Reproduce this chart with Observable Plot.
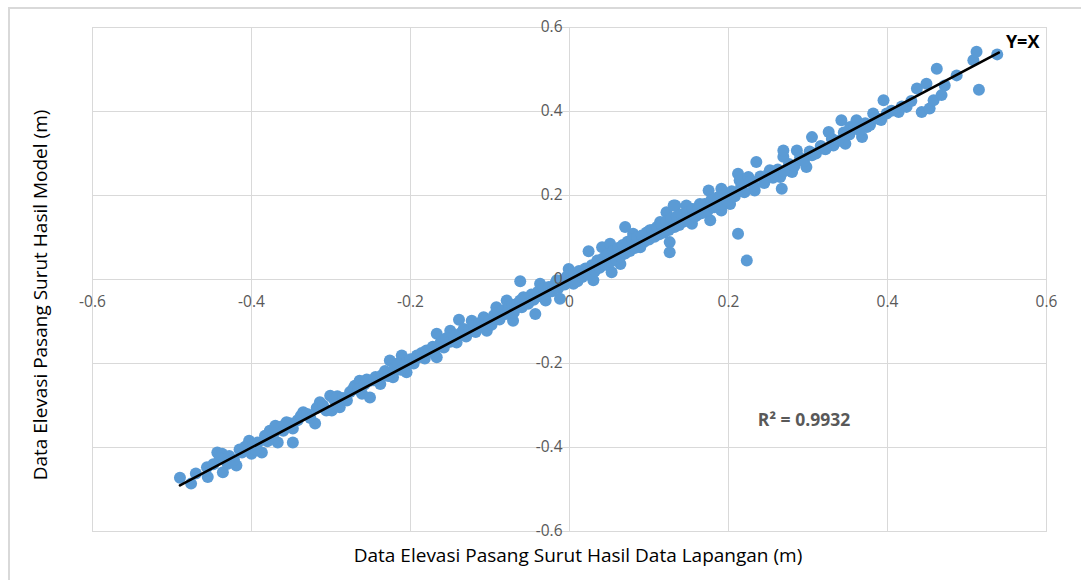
<!DOCTYPE html>
<html>
<head>
<meta charset="utf-8">
<script src="https://cdn.jsdelivr.net/npm/d3@7"></script>
<script src="https://cdn.jsdelivr.net/npm/@observablehq/plot@0.6"></script>
<style>
  html, body { margin: 0; padding: 0; background: #fff; }
  #wrap { position: relative; width: 1081px; height: 580px; overflow: hidden; font-family: "Open Sans", sans-serif; }
  #border { position: absolute; left: 8px; top: 7px; width: 1090px; height: 600px; border-top: 2px solid #d9d9d9; border-left: 2px solid #d9d9d9; box-sizing: border-box; }
  #chart { position: absolute; left: 0; top: 0; }
  .xtitle { position: absolute; left: 578px; top: 555px; transform: translate(-50%, -50%); white-space: nowrap; font-size: 19px; color: #000; }
  .ytitle { position: absolute; left: 40px; top: 295px; transform: translate(-50%, -50%) rotate(-90deg); white-space: nowrap; font-size: 19px; color: #000; }
</style>
</head>
<body>
<div id="wrap">
  <div id="border"></div>
  <div id="chart"></div>
  <div class="xtitle" id="xt"></div>
  <div class="ytitle" id="yt"></div>
</div>
<script>
// Field data (x) vs model data (y), metres
const fieldX = [
  -0.490,-0.476,-0.456,-0.455,-0.443,-0.437,-0.436,-0.430,-0.419,-0.412,-0.403,-0.400,-0.392,-0.387,-0.377,-0.370,-0.367,-0.356,-0.348,-0.348,
  -0.335,-0.320,-0.314,-0.301,-0.299,-0.289,-0.280,-0.270,-0.264,-0.261,-0.251,-0.251,-0.238,-0.226,-0.222,-0.211,-0.205,-0.192,-0.180,-0.167,
  -0.167,-0.188,-0.150,-0.139,-0.123,-0.108,-0.104,-0.092,-0.079,-0.071,-0.062,-0.058,-0.043,-0.037,-0.029,-0.016,-0.012,-0.001,0.005,0.017,
  0.024,0.030,0.041,0.051,0.053,0.064,0.070,0.080,0.089,0.101,0.114,0.122,0.126,0.126,0.133,0.147,0.160,
  0.131,0.154,0.164,0.175,0.177,0.191,0.191,0.202,0.212,0.223,0.212,0.214,0.225,0.233,0.235,0.252,0.265,0.267,0.269,0.269,
  0.280,0.286,0.298,0.305,0.305,0.319,0.326,0.332,0.342,0.347,0.353,0.361,0.368,0.374,0.382,0.388,0.395,0.399,0.414,0.424,
  0.437,0.443,0.449,0.453,0.458,0.462,0.468,0.472,0.487,0.508,0.512,0.515,0.538,
  -0.470,-0.448,-0.440,-0.428,-0.422,-0.415,-0.408,-0.398,-0.395,-0.383,-0.380,-0.372,-0.362,-0.360,-0.352,-0.342,-0.338,-0.330,-0.326,-0.318,
  -0.310,-0.306,-0.296,-0.292,-0.285,-0.276,-0.272,-0.266,-0.258,-0.255,-0.246,-0.244,-0.236,-0.232,-0.228,-0.220,-0.216,-0.212,-0.205,-0.200,
  -0.196,-0.190,-0.186,-0.182,-0.176,-0.172,-0.170,
  -0.162,-0.158,-0.155,-0.150,-0.145,-0.142,-0.137,-0.133,-0.130,-0.126,-0.120,-0.118,-0.114,-0.110,-0.106,-0.101,-0.098,-0.095,-0.090,-0.088,
  -0.084,-0.080,-0.076,-0.072,-0.070,-0.066,-0.062,-0.060,-0.055,-0.052,-0.048,-0.045,-0.040,-0.036,-0.033,-0.030,-0.026,-0.022,-0.018,-0.014,
  -0.010,-0.006,-0.003,0.002,0.006,0.010,0.012,0.016,0.020,0.024,0.028,0.032,0.035,0.038,0.042,0.045,0.048,0.052,0.055,0.058,
  0.061,0.064,0.067,0.070,0.073,0.076,0.079,0.082,0.085,0.088,0.091,0.094,0.097,0.100,0.104,0.107,0.110,0.113,0.116,0.119,
  0.122,0.125,0.128,0.132,0.135,0.138,0.141,0.144,0.148,0.151,0.155,0.158,0.162,0.166,0.170,0.174,0.178,0.182,0.186,0.190,
  0.194,0.198,0.204,0.208,0.216,0.220,0.228,0.232,0.240,0.245,0.250,0.256,0.262,0.270,0.276,0.283,0.290,0.295,0.302,0.310,
  0.316,0.322,0.330,0.338,0.345,0.352,0.358,0.365,0.372,0.378,0.385,0.392,0.405,0.418,0.430
];
const modelY = [
  -0.472,-0.486,-0.447,-0.470,-0.412,-0.415,-0.459,-0.439,-0.443,-0.412,-0.384,-0.415,-0.388,-0.412,-0.360,-0.348,-0.388,-0.340,-0.388,-0.355,
  -0.316,-0.343,-0.292,-0.277,-0.312,-0.304,-0.288,-0.253,-0.241,-0.272,-0.241,-0.281,-0.249,-0.193,-0.233,-0.181,-0.221,-0.181,-0.169,-0.129,
  -0.185,-0.181,-0.122,-0.096,-0.098,-0.090,-0.122,-0.066,-0.050,-0.098,-0.004,-0.042,-0.082,-0.010,-0.034,-0.002,-0.046,0.025,-0.010,0.014,
  0.067,-0.002,0.077,0.085,0.017,0.037,0.125,0.109,0.077,0.117,0.137,0.160,0.089,0.065,0.176,0.176,0.153,
  0.176,0.133,0.180,0.212,0.141,0.216,0.164,0.180,0.109,0.045,0.252,0.236,0.244,0.212,0.280,0.260,0.244,0.216,0.292,0.307,
  0.256,0.307,0.268,0.296,0.339,0.312,0.351,0.319,0.379,0.323,0.363,0.379,0.339,0.363,0.395,0.383,0.427,0.395,0.399,0.411,
  0.455,0.399,0.466,0.407,0.427,0.502,0.439,0.462,0.486,0.522,0.542,0.452,0.536,
  -0.462,-0.440,-0.425,-0.420,-0.430,-0.405,-0.398,-0.392,-0.405,-0.372,-0.385,-0.366,-0.350,-0.360,-0.342,-0.335,-0.325,-0.320,-0.330,-0.306,
  -0.300,-0.312,-0.286,-0.278,-0.282,-0.268,-0.260,-0.262,-0.250,-0.238,-0.240,-0.232,-0.228,-0.218,-0.230,-0.212,-0.200,-0.215,-0.198,-0.190,
  -0.200,-0.185,-0.175,-0.188,-0.170,-0.160,-0.175,
  -0.150,-0.162,-0.140,-0.148,-0.135,-0.150,-0.128,-0.118,-0.136,-0.120,-0.110,-0.125,-0.104,-0.112,-0.095,-0.098,-0.108,-0.085,-0.080,-0.095,
  -0.074,-0.082,-0.066,-0.060,-0.078,-0.058,-0.050,-0.066,-0.045,-0.058,-0.036,-0.048,-0.030,-0.040,-0.022,-0.050,-0.018,-0.028,-0.010,-0.020,
  -0.002,-0.012,0.008,0.004,0.014,-0.004,0.020,0.006,0.026,0.012,0.034,0.020,0.045,0.028,0.050,0.035,0.060,0.042,0.068,0.050,
  0.075,0.055,0.082,0.062,0.090,0.068,0.095,0.075,0.100,0.082,0.105,0.090,0.112,0.095,0.118,0.102,0.125,0.108,0.130,0.112,
  0.138,0.118,0.145,0.125,0.150,0.130,0.155,0.138,0.160,0.145,0.168,0.150,0.172,0.158,0.180,0.165,0.188,0.172,0.195,0.180,
  0.200,0.188,0.210,0.198,0.222,0.208,0.235,0.222,0.245,0.230,0.250,0.242,0.262,0.258,0.275,0.270,0.290,0.282,0.305,0.300,
  0.318,0.310,0.335,0.330,0.350,0.345,0.360,0.355,0.372,0.368,0.385,0.380,0.402,0.412,0.425
];
// Y = X reference line ends
const lineX = [-0.49, 0.54];
// Tick values and labels
const xTicks = [-0.6, -0.4, -0.2, 0, 0.2, 0.4, 0.6];
const xTickLabels = ["-0.6", "-0.4", "-0.2", "0", "0.2", "0.4", "0.6"];
const yTicks = [-0.6, -0.4, -0.2, 0, 0.2, 0.4, 0.6];
const yTickLabels = ["-0.6", "-0.4", "-0.2", "0", "0.2", "0.4", "0.6"];
const xTitle = "Data Elevasi Pasang Surut Hasil Data Lapangan (m)";
const yTitle = "Data Elevasi Pasang Surut Hasil Model (m)";
const lineLabel = "Y=X";
const r2Label = "R² = 0.9932";

const points = fieldX.map((x, i) => ({x, y: modelY[i]}));
const xT = xTicks.map((v, i) => ({v, t: xTickLabels[i]}));
const yT = yTicks.map((v, i) => ({v, t: yTickLabels[i]}));

const chart = Plot.plot({
  width: 1081,
  height: 580,
  marginLeft: 92,
  marginRight: 35,
  marginTop: 27,
  marginBottom: 49,
  x: {domain: [-0.6, 0.6], axis: null},
  y: {domain: [-0.6, 0.6], axis: null},
  style: {fontFamily: "'Open Sans', sans-serif", background: "transparent", overflow: "visible"},
  marks: [
    Plot.gridX(xTicks, {stroke: "#d9d9d9", strokeOpacity: 1, strokeWidth: 1}),
    Plot.gridY(yTicks, {stroke: "#d9d9d9", strokeOpacity: 1, strokeWidth: 1}),
    Plot.frame({stroke: "#d9d9d9", strokeWidth: 1}),
    Plot.dot(points, {x: "x", y: "y", r: 6, fill: "#5b9bd5", stroke: "none"}),
    Plot.line(lineX, {x: d => d, y: d => d, stroke: "#000", strokeWidth: 2.6}),
    Plot.text(xT, {x: "v", y: () => 0, text: "t", dy: 23, fill: "#595959", fontSize: 15.5}),
    Plot.text(yT, {x: () => 0, y: "v", text: "t", dx: -7, textAnchor: "end", fill: "#595959", fontSize: 15.5}),
    Plot.text([lineLabel], {x: () => 0.570, y: () => 0.565, text: d => d, fill: "#000", fontSize: 18, fontWeight: "bold"}),
    Plot.text([r2Label], {x: () => 0.295, y: () => -0.336, text: d => d, fill: "#595959", fontSize: 17.5, fontWeight: "bold"})
  ]
});
document.getElementById("chart").appendChild(chart);
document.getElementById("xt").textContent = xTitle;
document.getElementById("yt").textContent = yTitle;
</script>
</body>
</html>
